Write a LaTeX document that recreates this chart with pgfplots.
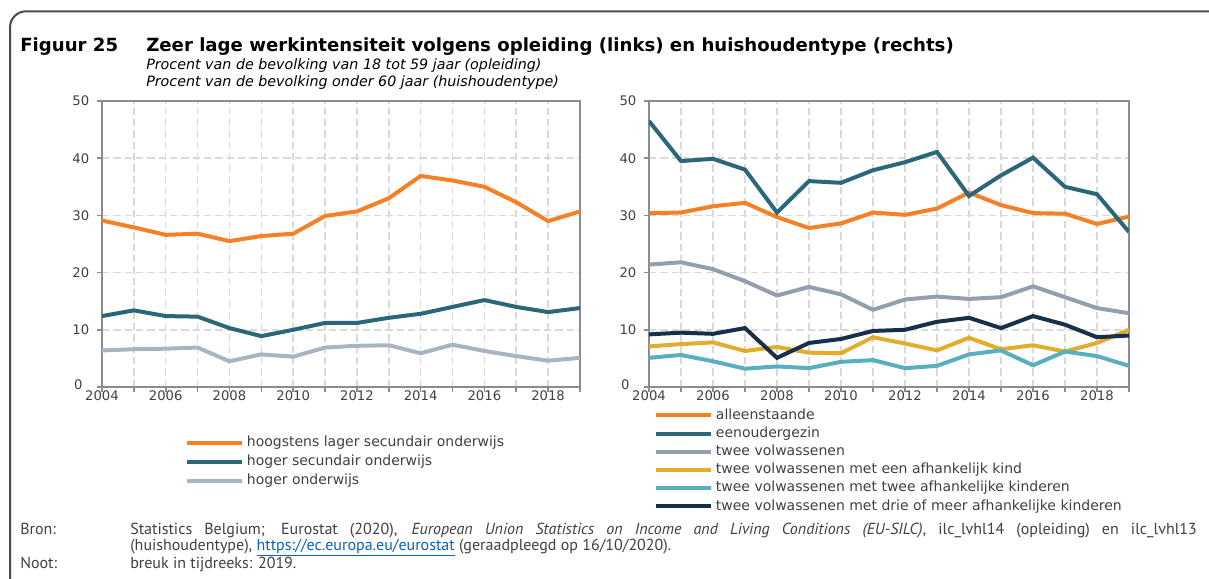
\documentclass[border=0pt]{standalone}
\usepackage{pgfplots}
\pgfplotsset{compat=1.18}
\usepackage{pgfplotstable}
\usepackage{fontspec}
\setmainfont{DejaVu Sans}
\newfontfamily\footfont{PT Sans}

\definecolor{cOrange}{HTML}{F58025}
\definecolor{cTeal}{HTML}{2C667A}
\definecolor{cLight}{HTML}{A8B4C2}
\definecolor{cGrey}{HTML}{939EAE}
\definecolor{cGold}{HTML}{E2AC2C}
\definecolor{cAqua}{HTML}{59AFBF}
\definecolor{cNavy}{HTML}{172F4A}
\definecolor{axisgrey}{HTML}{8C8C8C}
\definecolor{gridgrey}{HTML}{D9D9D9}
\definecolor{labelgrey}{HTML}{404040}
\definecolor{framegrey}{HTML}{4A4A4A}
\definecolor{linkblue}{HTML}{0563C1}

% opleiding (links)
\pgfplotstableread{
year hls  hs   ho
2004 29.1 12.4 6.4
2005 27.9 13.4 6.6
2006 26.6 12.4 6.7
2007 26.8 12.3 6.9
2008 25.5 10.3 4.5
2009 26.4 8.9  5.7
2010 26.8 10.0 5.3
2011 29.9 11.2 6.9
2012 30.7 11.2 7.2
2013 33.0 12.1 7.3
2014 36.9 12.8 5.9
2015 36.1 14.0 7.4
2016 35.0 15.2 6.3
2017 32.3 14.0 5.4
2018 29.0 13.1 4.6
2019 30.7 13.8 5.1
}\opleiding

% huishoudentype (rechts)
\pgfplotstableread{
year al   eo   tv   k1   k2  k3
2004 30.4 46.5 21.4 7.1  5.1 9.2
2005 30.5 39.5 21.8 7.5  5.6 9.5
2006 31.6 39.9 20.6 7.8  4.5 9.3
2007 32.2 38.0 18.5 6.3  3.2 10.3
2008 29.7 30.5 16.0 7.0  3.6 5.1
2009 27.8 36.0 17.5 6.0  3.3 7.7
2010 28.6 35.7 16.2 5.9  4.4 8.4
2011 30.5 37.9 13.5 8.7  4.7 9.8
2012 30.1 39.3 15.3 7.6  3.3 10.0
2013 31.2 41.1 15.8 6.4  3.7 11.4
2014 34.0 33.4 15.4 8.6  5.7 12.1
2015 31.8 37.0 15.7 6.6  6.4 10.3
2016 30.4 40.1 17.6 7.3  3.8 12.4
2017 30.3 35.0 15.7 6.2  6.2 10.9
2018 28.5 33.7 13.8 7.7  5.4 8.7
2019 29.8 27.1 12.9 10.0 3.7 9.0
}\huishouden

\pgfplotsset{
  panel/.style={
    scale only axis, height=214.5pt,
    xmin=2004, xmax=2019, ymin=0, ymax=50,
    xtick={2004,...,2019},
    xticklabels={2004,,2006,,2008,,2010,,2012,,2014,,2016,,2018,},
    ytick={0,10,...,50},
    yticklabels={{\raisebox{4pt}{0\hspace{5pt}}},10,20,30,40,50},
    grid=major,
    major grid style={gridgrey, line width=1.1pt, dash pattern=on 5.5pt off 3pt},
    axis line style={axisgrey, line width=1.6pt},
    tick style={axisgrey, line width=1.2pt},
    tick align=outside, major tick length=3.5pt,
    xtick pos=lower, ytick pos=left,
    tick label style={text=labelgrey, font=\fontsize{9.9}{11}\selectfont},
    xticklabel style={yshift=4.5pt},
    yticklabel style={xshift=-2.5pt},
    /pgf/number format/assume math mode=true,
    every axis plot/.append style={line width=3pt, no markers},
    legend image code/.code={\draw[##1, line width=3pt] (0pt,0pt) -- (41.25pt,0pt);},
    legend cell align=left,
  },
}

\begin{document}
\begin{tikzpicture}
\useasboundingbox (0,0) rectangle (906.75pt,-433.5pt);

% kader
\draw[framegrey, line width=1.5pt, rounded corners=12pt]
  (7.5pt,-440pt) -- (7.5pt,-8.5pt) -- (915pt,-8.5pt);

% titel
\node[anchor=base west, inner sep=0pt, font=\bfseries\fontsize{13.6}{15}\selectfont]
  at (15pt,-38.5pt) {Figuur 25};
\node[anchor=base west, inner sep=0pt, font=\bfseries\fontsize{13.6}{15}\selectfont]
  at (109.5pt,-38.5pt) {Zeer lage werkintensiteit volgens opleiding (links) en huishoudentype (rechts)};
\node[anchor=base west, inner sep=0pt, font=\itshape\fontsize{10.7}{12}\selectfont]
  at (109.5pt,-52pt) {Procent van de bevolking van 18 tot 59 jaar (opleiding)};
\node[anchor=base west, inner sep=0pt, font=\itshape\fontsize{10.7}{12}\selectfont]
  at (109.5pt,-64.75pt) {Procent van de bevolking onder 60 jaar (huishoudentype)};

% links: opleiding
\begin{axis}[panel, width=358.5pt,
  at={(76.5pt,-290.25pt)}, anchor=south west,
  legend style={draw=none, fill=none, inner sep=0pt,
    at={(0.1736,-0.1626)}, anchor=north west,
    font=\fontsize{10.5}{12}\selectfont, text=labelgrey,
    nodes={inner xsep=2pt, inner ysep=1.875pt, text height=8pt, text depth=2.5pt}},
]
\addplot[cOrange] table[x=year, y=hls] {\opleiding};
\addlegendentry{hoogstens lager secundair onderwijs}
\addplot[cTeal] table[x=year, y=hs] {\opleiding};
\addlegendentry{hoger secundair onderwijs}
\addplot[cLight] table[x=year, y=ho] {\opleiding};
\addlegendentry{hoger onderwijs}
\end{axis}

% rechts: huishoudentype
\begin{axis}[panel, width=360pt,
  at={(486.75pt,-290.25pt)}, anchor=south west,
  legend style={draw=none, fill=none, inner sep=0pt,
    at={(0.0104,-0.0664)}, anchor=north west,
    font=\fontsize{10.5}{12}\selectfont, text=labelgrey,
    nodes={inner xsep=2pt, inner ysep=1.575pt, text height=8pt, text depth=2.5pt}},
]
\addplot[cOrange] table[x=year, y=al] {\huishouden};
\addlegendentry{alleenstaande}
\addplot[cTeal] table[x=year, y=eo] {\huishouden};
\addlegendentry{eenoudergezin}
\addplot[cGrey] table[x=year, y=tv] {\huishouden};
\addlegendentry{twee volwassenen}
\addplot[cGold] table[x=year, y=k1] {\huishouden};
\addlegendentry{twee volwassenen met een afhankelijk kind}
\addplot[cAqua] table[x=year, y=k2] {\huishouden};
\addlegendentry{twee volwassenen met twee afhankelijke kinderen}
\addplot[cNavy] table[x=year, y=k3] {\huishouden};
\addlegendentry{twee volwassenen met drie of meer afhankelijke kinderen}
\end{axis}

% bron en noot
\begin{scope}[every node/.style={anchor=base west, inner sep=0pt, text=labelgrey,
    font=\footfont\fontsize{12}{14}\selectfont}]
\node at (15pt,-400.5pt) {Bron:};
\node at (97.5pt,-400.5pt) {\makebox[800pt][s]{Statistics Belgium; Eurostat (2020), \textit{European Union Statistics on Income and Living Conditions (EU-SILC)}, ilc\_lvhl14 (opleiding) en ilc\_lvhl13}};
\node at (97.5pt,-413pt) {(huishoudentype), \textcolor{linkblue}{\underline{https://ec.europa.eu/eurostat}} (geraadpleegd op 16/10/2020).};
\node at (15pt,-426.5pt) {Noot:};
\node at (97.5pt,-426.5pt) {breuk in tijdreeks: 2019.};
\end{scope}
\end{tikzpicture}
\end{document}
